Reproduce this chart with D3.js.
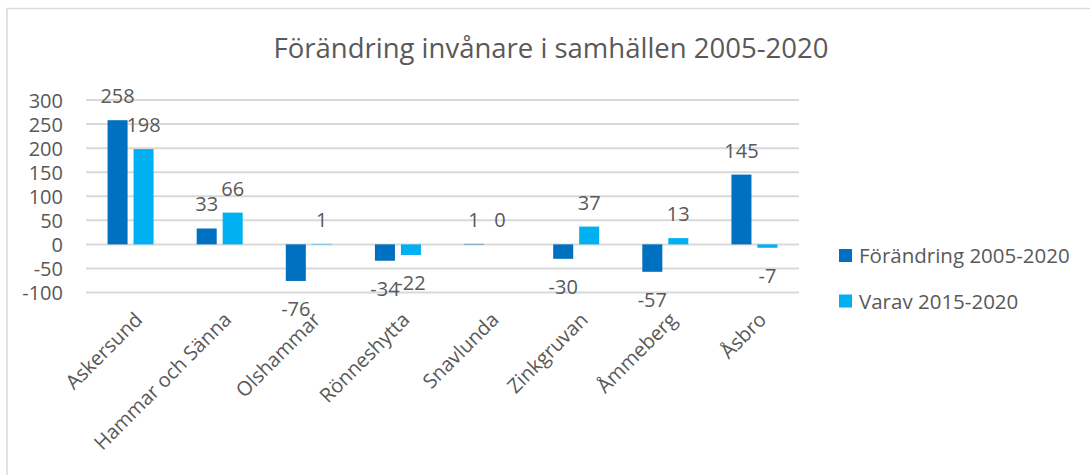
<!doctype html>
<html lang="sv">
<head>
<meta charset="utf-8">
<title>Förändring invånare i samhällen 2005-2020</title>
<script src="https://cdn.jsdelivr.net/npm/d3@7"></script>
<style>
  body { margin: 0; background: #fff; }
  text { font-family: "Open Sans", sans-serif; fill: #595959; }
</style>
</head>
<body>
<script>

// Data
var categories = ["Askersund", "Hammar och Sänna", "Olshammar", "Rönneshytta",
                  "Snavlunda", "Zinkgruvan", "Åmmeberg", "Åsbro"];
var seriesNames = ["Förändring 2005-2020", "Varav 2015-2020"];
var change0520 = [258, 33, -76, -34, 1, -30, -57, 145];
var change1520 = [198, 66, 1, -22, 0, 37, 13, -7];
var yTicks = [-100, -50, 0, 50, 100, 150, 200, 250, 300];
var colors = ["#0070C0", "#00B0F0"];

var width = 1090, height = 475;
var plot = {left: 86, right: 799, top: 100, bottom: 292.5};

var svg = d3.select("body").append("svg")
  .attr("width", width)
  .attr("height", height);

// chart frame (only top/left visible in the crop)
svg.append("path")
  .attr("d", "M7,475 V8.5 H1090")
  .attr("fill", "none")
  .attr("stroke", "#d9d9d9")
  .attr("stroke-width", 1.5);

// Scales
var x0 = d3.scaleBand()
  .domain(categories)
  .range([plot.left, plot.right]);

var bw = x0.bandwidth();
var x1 = d3.scaleBand()
  .domain(seriesNames)
  .range([bw / 2 - 23, bw / 2 + 23])
  .paddingInner(0.23);

var y = d3.scaleLinear()
  .domain([-100, 300])
  .range([plot.bottom, plot.top]);

// Gridlines
svg.append("g")
  .selectAll("line")
  .data(yTicks)
  .enter().append("line")
    .attr("x1", plot.left)
    .attr("x2", plot.right)
    .attr("y1", function(d) { return y(d); })
    .attr("y2", function(d) { return y(d); })
    .attr("stroke", "#d9d9d9")
    .attr("stroke-width", 2);

// Y axis labels (plain hyphen minus like the original)
var yAxis = d3.axisLeft(y)
  .tickValues(yTicks)
  .tickFormat(function(d) { return String(d); })
  .tickSize(0)
  .tickPadding(0);

var gy = svg.append("g")
  .attr("transform", "translate(63,0)")
  .call(yAxis);
gy.select(".domain").remove();
gy.selectAll("text")
  .attr("font-family", "Open Sans, sans-serif")
  .attr("font-size", 20)
  .attr("fill", "#595959")
  .attr("dy", "0.36em");

// Bars
var rows = categories.map(function(c, i) {
  return {cat: c, values: [
    {s: seriesNames[0], v: change0520[i], color: colors[0]},
    {s: seriesNames[1], v: change1520[i], color: colors[1]}
  ]};
});

var groups = svg.append("g")
  .selectAll("g")
  .data(rows)
  .enter().append("g")
    .attr("transform", function(d) { return "translate(" + x0(d.cat) + ",0)"; });

groups.selectAll("rect")
  .data(function(d) { return d.values; })
  .enter().append("rect")
    .attr("x", function(d) { return x1(d.s); })
    .attr("width", x1.bandwidth())
    .attr("y", function(d) { return y(Math.max(0, d.v)); })
    .attr("height", function(d) { return Math.abs(y(d.v) - y(0)); })
    .attr("fill", function(d) { return d.color; });

// Data labels
groups.selectAll("text")
  .data(function(d) { return d.values; })
  .enter().append("text")
    .attr("x", function(d) { return x1(d.s) + x1.bandwidth() / 2; })
    .attr("y", function(d) { return d.v >= 0 ? y(d.v) - 17 : y(d.v) + 35; })
    .attr("text-anchor", "middle")
    .attr("font-size", 20)
    .text(function(d) { return d.v; });

// Category labels
svg.append("g")
  .selectAll("text")
  .data(categories)
  .enter().append("text")
    .attr("transform", function(d) {
      return "translate(" + (x0(d) + bw / 2 + 13) + ",321) rotate(-45)";
    })
    .attr("text-anchor", "end")
    .attr("font-size", 20)
    .text(function(d) { return d; });

// Title
svg.append("text")
  .attr("x", 551)
  .attr("y", 58)
  .attr("text-anchor", "middle")
  .attr("font-size", 27.5)
  .text("Förändring invånare i samhällen 2005-2020");

// Legend
var legend = svg.append("g")
  .selectAll("g")
  .data(seriesNames)
  .enter().append("g")
    .attr("transform", function(d, i) { return "translate(839," + (249 + i * 45.5) + ")"; });

legend.append("rect")
  .attr("width", 13)
  .attr("height", 13)
  .attr("fill", function(d, i) { return colors[i]; });

legend.append("text")
  .attr("x", 20)
  .attr("y", 14)
  .attr("font-size", 20.5)
  .text(function(d) { return d; });

</script>
</body>
</html>
